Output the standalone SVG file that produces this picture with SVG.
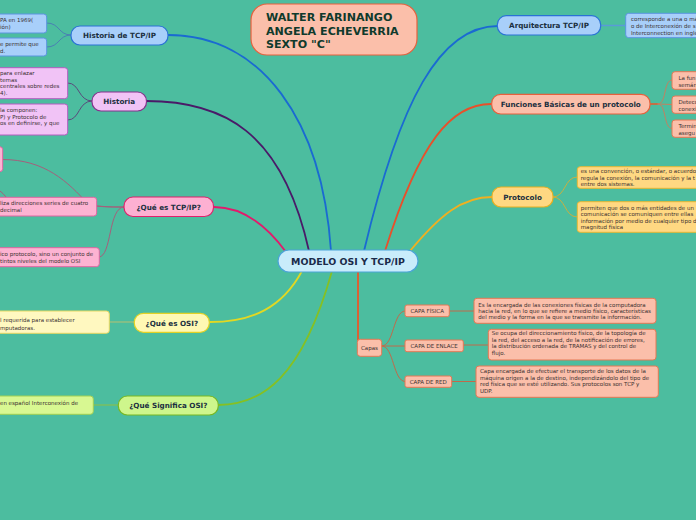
<svg xmlns="http://www.w3.org/2000/svg" width="696" height="520" viewBox="0 0 696 520">
<style>
.nt{font-family:"DejaVu Sans",Verdana,sans-serif;font-weight:bold;font-size:7.2px;fill:#1b3040;text-anchor:middle}
.lt{font-family:"DejaVu Sans",Verdana,sans-serif;font-size:5.5px;fill:#3a3030}
.blue{fill:#a8cffa;stroke:#2a72d6;stroke-width:1.2}
.bluel{fill:#a8cffa;stroke:#5a94e0;stroke-width:1}
.purp{fill:#f1c3f6;stroke:#86318e;stroke-width:1.2}
.purpl{fill:#f1c3f6;stroke:#b45cc0;stroke-width:1}
.pink{fill:#fdb0d2;stroke:#e0206c;stroke-width:1.2}
.pinkl{fill:#fdb3d2;stroke:#e064a2;stroke-width:1}
.yel{fill:#fff8b4;stroke:#e2d224;stroke-width:1.2}
.yell{fill:#fff8c0;stroke:#e6d862;stroke-width:1}
.grn{fill:#cef68c;stroke:#78b822;stroke-width:1.2}
.grnl{fill:#d8f892;stroke:#a2d052;stroke-width:1}
.sal{fill:#fbbfaa;stroke:#e8603c;stroke-width:1.2}
.sall{fill:#fbbfaa;stroke:#e47854;stroke-width:1}
.org{fill:#ffd882;stroke:#e8b020;stroke-width:1.2}
.orgl{fill:#ffd882;stroke:#e8b834;stroke-width:1}
.c{fill:none;stroke-linecap:round}
</style>
<rect width="696" height="520" fill="#4cbd9f"/>
<g id="connectors">
<path class="c" d="M331,251 C322,120 262,35 168,35" stroke="#1a6ad2" stroke-width="1.8"/>
<path class="c" d="M309,251 C282,130 222,101 146,101" stroke="#4a1a68" stroke-width="1.8"/>
<path class="c" d="M286,252 C264,222 240,207 214,207" stroke="#e21a6c" stroke-width="1.8"/>
<path class="c" d="M302,271 C282,308 252,322 210,322" stroke="#e2d822" stroke-width="1.8"/>
<path class="c" d="M332,271 C302,378 262,405 218,405" stroke="#86c022" stroke-width="1.8"/>
<path class="c" d="M364,251 C400,100 440,26 498,26" stroke="#1a6ad2" stroke-width="1.8"/>
<path class="c" d="M385,251 C420,140 452,104 491,104" stroke="#e8502a" stroke-width="1.8"/>
<path class="c" d="M410,251 C440,215 462,197 492,197" stroke="#f0b020" stroke-width="1.8"/>
<path class="c" d="M358,272 L358,340" stroke="#e8582a" stroke-width="1.8"/>
<path class="c" d="M71,35 C58,35 60,23 47,23 M71,35 C58,35 60,47 47,47" stroke="#4a80b4" stroke-width="1"/>
<path class="c" d="M92,101 C78,101 80,83 68,83 M92,101 C78,101 80,120 68,120" stroke="#5a4a7c" stroke-width="1"/>
<path class="c" d="M2.7,159.5 C45,159.5 68,182 88,204 C94,207 110,207 124,207 M124,207 C108,207 112,207 97,206 M124,207 C108,207 112,257 99,257 M0,191 Q3,193 6,197" stroke="#a4607c" stroke-width="1"/>
<path class="c" d="M109,322 L134,322" stroke="#b8c070" stroke-width="1"/>
<path class="c" d="M93,405 L118,405" stroke="#90c040" stroke-width="1"/>
<path class="c" d="M601,25.5 L626,25.5" stroke="#5a9ad8" stroke-width="1.5"/>
<path class="c" d="M650,104 L658,104" stroke="#e8582a" stroke-width="1.5"/>
<path class="c" d="M658,104 C667,104 663,80 672,80 M658,104 L672,104.5 M658,104 C667,104 663,128.5 672,128.5" stroke="#c48060" stroke-width="1"/>
<path class="c" d="M553,197 C566,197 564,177 577,177 M553,197 C566,197 564,217 577,217" stroke="#c8b040" stroke-width="1"/>
<path class="c" d="M382,346 C394,346 393,311 405,311 M382,346 L405,346 M382,346 C394,346 393,381.5 405,381.5" stroke="#c06a4a" stroke-width="1"/>
<path class="c" d="M449,311 L474,311 M463,345 L488,345 M452,381.5 L476,381.5" stroke="#c06a4a" stroke-width="1"/>
</g>
<g id="center">
<rect x="278" y="250" width="140" height="22" rx="11" fill="#c9ecfb" stroke="#4aa3d8" stroke-width="1.2"/>
<text x="348" y="264.5" class="nt" style="font-size:9.4px;fill:#1a2a4a">MODELO OSI Y TCP/IP</text>
</g>
<g id="title">
<rect x="251" y="4" width="166" height="51" rx="16" class="sal"/>
<text x="266" y="21" style="font-family:'DejaVu Sans',Verdana,sans-serif;font-weight:bold;font-size:11.1px;fill:#0f3a2c">WALTER FARINANGO</text>
<text x="266" y="34.5" style="font-family:'DejaVu Sans',Verdana,sans-serif;font-weight:bold;font-size:11.1px;fill:#0f3a2c">ANGELA ECHEVERRIA</text>
<text x="266" y="48" style="font-family:'DejaVu Sans',Verdana,sans-serif;font-weight:bold;font-size:11.1px;fill:#0f3a2c">SEXTO "C"</text>
</g>
<g id="historia-tcpip">
<rect x="71" y="26" width="97" height="19" rx="9" class="blue"/>
<text x="119.5" y="38" class="nt">Historia de TCP/IP</text>
</g>
<g id="historia-tcpip-1">
<rect x="-10" y="14" width="56.7" height="19" rx="3" class="bluel"/>
<text x="0" y="22" class="lt">PA en 1969(</text>
<text x="0" y="29" class="lt">ión)</text>
</g>
<g id="historia-tcpip-2">
<rect x="-10" y="38" width="56.7" height="18" rx="3" class="bluel"/>
<text x="0" y="45.5" class="lt">e permite que</text>
<text x="0" y="52.5" class="lt">d.</text>
</g>
<g id="historia">
<rect x="92" y="92" width="54.5" height="19" rx="9" class="purp"/>
<text x="119.2" y="104" class="nt">Historia</text>
</g>
<g id="historia-1">
<rect x="-10" y="67.7" width="77.7" height="31" rx="3" class="purpl"/>
<text x="0" y="75" class="lt">para enlazar</text>
<text x="0" y="81.5" class="lt">temas</text>
<text x="0" y="88" class="lt">centrales sobre redes</text>
<text x="0" y="94.5" class="lt">4).</text>
</g>
<g id="historia-2">
<rect x="-10" y="104" width="77.7" height="31" rx="3" class="purpl"/>
<text x="0" y="111.5" class="lt">la componen:</text>
<text x="0" y="118.5" class="lt">P) y Protocolo de</text>
<text x="0" y="125" class="lt">os en definirse, y que</text>
</g>
<g id="que-es-tcpip">
<rect x="124" y="197" width="89.5" height="19.5" rx="9" class="pink"/>
<text x="168.7" y="209.5" class="nt">¿Qué es TCP/IP?</text>
</g>
<g id="que-es-tcpip-0">
<rect x="-10" y="146.7" width="12.7" height="25" rx="3" class="pinkl"/>
</g>
<g id="que-es-tcpip-1">
<rect x="-10" y="197.3" width="106.7" height="18.7" rx="3" class="pinkl"/>
<text x="0" y="204.5" class="lt">liza direcciones series de cuatro</text>
<text x="0" y="212" class="lt">decimal</text>
</g>
<g id="que-es-tcpip-2">
<rect x="-10" y="247.7" width="109.3" height="19" rx="3" class="pinkl"/>
<text x="0" y="256" class="lt">ico protocolo, sino un conjunto de</text>
<text x="0" y="263" class="lt">tintos niveles del modelo OSI</text>
</g>
<g id="que-es-osi">
<rect x="134.3" y="313.3" width="75" height="19" rx="9" class="yel"/>
<text x="171.8" y="325.5" class="nt">¿Qué es OSI?</text>
</g>
<g id="que-es-osi-1">
<rect x="-10" y="311" width="119.3" height="22.3" rx="3" class="yell"/>
<text x="0" y="322" class="lt">l requerida para establecer</text>
<text x="0" y="329.5" class="lt">mputadoras.</text>
</g>
<g id="que-significa-osi">
<rect x="118.3" y="396" width="100" height="19" rx="9" class="grn"/>
<text x="168.3" y="408.2" class="nt">¿Qué Significa OSI?</text>
</g>
<g id="que-significa-osi-1">
<rect x="-10" y="396" width="103.3" height="18.3" rx="3" class="grnl"/>
<text x="0" y="404.5" class="lt">en español Interconexión de</text>
</g>
<g id="arquitectura">
<rect x="497.3" y="15.7" width="103.4" height="19.3" rx="9" class="blue"/>
<text x="549" y="28" class="nt">Arquitectura TCP/IP</text>
</g>
<g id="arquitectura-1">
<rect x="625.7" y="13.3" width="80" height="24.4" rx="3" class="bluel"/>
<text x="631" y="21.3" class="lt">corresponde a una o má</text>
<text x="631" y="28" class="lt">o de Interconexión de s</text>
<text x="631" y="35" class="lt">Interconnection en inglé</text>
</g>
<g id="funciones">
<rect x="491.7" y="94.3" width="158.3" height="19.7" rx="9" class="sal"/>
<text x="570.8" y="106.8" class="nt">Funciones Básicas de un protocolo</text>
</g>
<g id="funciones-1">
<rect x="672" y="71.7" width="34" height="17.6" rx="3" class="sall"/>
<text x="678.5" y="80" class="lt">La fun</text>
<text x="678.5" y="86.5" class="lt">semán</text>
</g>
<g id="funciones-2">
<rect x="672" y="96" width="34" height="17.3" rx="3" class="sall"/>
<text x="678.5" y="104" class="lt">Detecc</text>
<text x="678.5" y="110.5" class="lt">conexi</text>
</g>
<g id="funciones-3">
<rect x="672" y="120" width="34" height="17.3" rx="3" class="sall"/>
<text x="678.5" y="128" class="lt">Termin</text>
<text x="678.5" y="134.5" class="lt">asegu</text>
</g>
<g id="protocolo">
<rect x="492" y="187" width="61" height="20" rx="9" class="org"/>
<text x="522.5" y="199.5" class="nt">Protocolo</text>
</g>
<g id="protocolo-1">
<rect x="577.3" y="166.7" width="130" height="21.6" rx="3" class="orgl"/>
<text x="580.7" y="173" class="lt">es una convención, o estándar, o acuerdo</text>
<text x="580.7" y="179.5" class="lt">regula la conexión, la comunicación y la t</text>
<text x="580.7" y="186" class="lt">entre dos sistemas.</text>
</g>
<g id="protocolo-2">
<rect x="577.3" y="201.7" width="130" height="30.6" rx="3" class="orgl"/>
<text x="580.7" y="209.5" class="lt">permiten que dos o más entidades de un</text>
<text x="580.7" y="216" class="lt">comunicación se comuniquen entre ellas</text>
<text x="580.7" y="222.5" class="lt">información por medio de cualquier tipo d</text>
<text x="580.7" y="229" class="lt">magnitud física</text>
</g>
<g id="capas">
<rect x="357.3" y="339.3" width="24.4" height="17" rx="3" class="sall"/>
<text x="369.5" y="349.8" class="lt" style="text-anchor:middle">Capas</text>
</g>
<g id="capa-fisica">
<rect x="405" y="305" width="44.3" height="11.7" rx="2" class="sall"/>
<text x="427.2" y="312.8" class="lt" style="text-anchor:middle">CAPA FÍSICA</text>
</g>
<g id="capa-enlace">
<rect x="405" y="340" width="58.3" height="11.7" rx="2" class="sall"/>
<text x="434.2" y="347.8" class="lt" style="text-anchor:middle">CAPA DE ENLACE</text>
</g>
<g id="capa-red">
<rect x="405" y="376" width="46.7" height="11.3" rx="2" class="sall"/>
<text x="428.3" y="383.6" class="lt" style="text-anchor:middle">CAPA DE RED</text>
</g>
<g id="desc-fisica">
<rect x="474" y="298.3" width="182" height="25" rx="3" class="sall"/>
<text x="478.3" y="306.5" class="lt">Es la encargada de las conexiones físicas de la computadora</text>
<text x="478.3" y="312.7" class="lt">hacia la red, en lo que se refiere a medio físico, características</text>
<text x="478.3" y="318.9" class="lt">del medio y la forma en la que se transmite la información.</text>
</g>
<g id="desc-enlace">
<rect x="488.3" y="329.3" width="167.7" height="30.7" rx="3" class="sall"/>
<text x="491.7" y="335.3" class="lt">Se ocupa del direccionamiento físico, de la topología de</text>
<text x="491.7" y="341.8" class="lt">la red, del acceso a la red, de la notificación de errores,</text>
<text x="491.7" y="348.3" class="lt">la distribución ordenada de TRAMAS y del control de</text>
<text x="491.7" y="354.8" class="lt">flujo.</text>
</g>
<g id="desc-red">
<rect x="476" y="366" width="182.3" height="31.3" rx="3" class="sall"/>
<text x="480" y="373" class="lt">Capa encargada de efectuar el transporte de los datos de la</text>
<text x="480" y="379.5" class="lt">máquina origen a la de destino, independizándolo del tipo de</text>
<text x="480" y="386" class="lt">red física que se esté utilizando. Sus protocolos son TCP y</text>
<text x="480" y="392.5" class="lt">UDP.</text>
</g>
</svg>
